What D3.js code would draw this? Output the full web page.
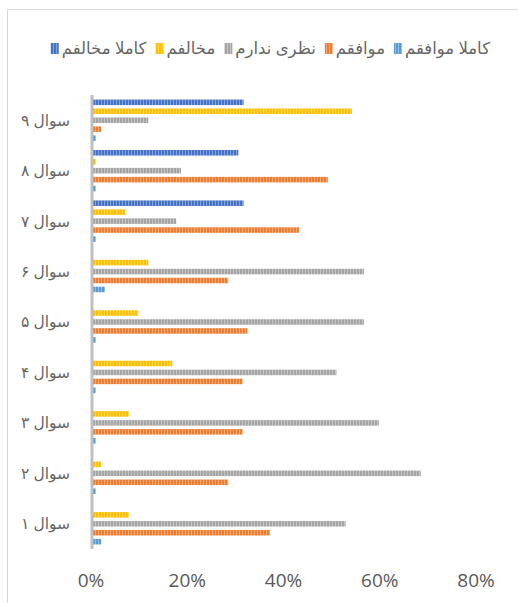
<!DOCTYPE html>
<html>
<head>
<meta charset="utf-8">
<script src="https://cdn.jsdelivr.net/npm/d3@7"></script>
<style>
  body { margin: 0; background: #fff; }
  svg { display: block; }
  text { font-family: "Open Sans", "DejaVu Sans", sans-serif; fill: #595959; }
</style>
</head>
<body>
<div id="chart"></div>
<script>
// questions, bottom to top
var categories = ['سوال ۱', 'سوال ۲', 'سوال ۳', 'سوال ۴', 'سوال ۵', 'سوال ۶', 'سوال ۷', 'سوال ۸', 'سوال ۹'];
var seriesNames = ['کاملا موافقم', 'موافقم', 'نظری ندارم', 'مخالفم', 'کاملا مخالفم'];
var seriesColors = ['#5B9BD5', '#ED7D31', '#A5A5A5', '#FFC000', '#4472C4'];
// percent values per series, same order as categories
var stronglyAgree = [1.9, 0.8, 0.8, 0.8, 0.8, 2.7, 0.8, 0.8, 0.8];
var agree = [37, 28.3, 31.3, 31.3, 32.3, 28.3, 43, 49, 1.9];
var noOpinion = [52.7, 68.3, 59.6, 50.8, 56.5, 56.5, 17.5, 18.5, 11.7];
var disagree = [7.7, 1.9, 7.7, 16.7, 9.6, 11.7, 6.9, 0.8, 54];
var stronglyDisagree = [0, 0, 0, 0, 0, 0, 31.5, 30.4, 31.5];
var tickValues = [0, 20, 40, 60, 80];

var seriesValues = [stronglyAgree, agree, noOpinion, disagree, stronglyDisagree];

var width = 518, height = 603;
var margin = {top: 95, right: 41, bottom: 54, left: 92};

var svg = d3.select('#chart').append('svg')
    .attr('width', width)
    .attr('height', height);

// striped fills like the excel pattern
var defs = svg.append('defs');
seriesColors.forEach(function(c, i) {
    var p = defs.append('pattern')
        .attr('id', 'stripe' + i)
        .attr('patternUnits', 'userSpaceOnUse')
        .attr('width', 3)
        .attr('height', 3);
    p.append('rect').attr('width', 3).attr('height', 3).attr('fill', c);
    p.append('rect').attr('x', 2).attr('width', 1).attr('height', 3)
        .attr('fill', d3.interpolateRgb(c, '#fff')(0.35));
});

// chart border
svg.append('rect')
    .attr('x', 7.5).attr('y', 9.5)
    .attr('width', 530).attr('height', 620)
    .attr('fill', 'none')
    .attr('stroke', '#d9d9d9');

var x = d3.scaleLinear()
    .domain([0, 80])
    .range([margin.left, width - margin.right]);

var y = d3.scaleBand()
    .domain(categories.slice().reverse())
    .range([margin.top, height - margin.bottom])
    .paddingInner(0.18)
    .paddingOuter(0.09);

var inner = d3.scaleBand()
    .domain(d3.range(seriesNames.length).reverse())
    .range([0, y.bandwidth()])
    .paddingInner(0.38);

var groups = svg.append('g').selectAll('g')
    .data(categories)
    .enter().append('g')
    .attr('transform', function(d) { return 'translate(0,' + y(d) + ')'; });

groups.selectAll('rect')
    .data(function(d, ci) {
        return seriesValues.map(function(vals, si) { return {s: si, v: vals[ci]}; });
    })
    .enter().append('rect')
    .attr('x', x(0))
    .attr('y', function(d) { return inner(d.s); })
    .attr('height', inner.bandwidth())
    .attr('width', function(d) { return x(d.v) - x(0); })
    .attr('fill', function(d) { return 'url(#stripe' + d.s + ')'; });

// vertical category axis line
svg.append('line')
    .attr('x1', x(0)).attr('x2', x(0))
    .attr('y1', margin.top).attr('y2', height - margin.bottom)
    .attr('stroke', '#bfbfbf')
    .attr('stroke-width', 3);

// category labels
svg.append('g').selectAll('text')
    .data(categories)
    .enter().append('text')
    .attr('x', 70)
    .attr('y', function(d) { return y(d) + y.bandwidth() / 2; })
    .attr('dy', '0.35em')
    .attr('text-anchor', 'end')
    .style('font-size', '15.5px')
    .style('fill', '#666')
    .text(function(d) { return d; });

// value axis labels
svg.append('g').selectAll('text')
    .data(tickValues)
    .enter().append('text')
    .attr('x', function(d) { return x(d) - 1; })
    .attr('y', 580)
    .attr('dy', '0.35em')
    .attr('text-anchor', 'middle')
    .style('font-size', '19px')
    .text(function(d) { return d + '%'; });

// legend, laid out right to left
var legend = svg.append('g');
var cursor = 490;
seriesNames.forEach(function(name, i) {
    var t = legend.append('text')
        .attr('x', cursor)
        .attr('y', 48)
        .attr('dy', '0.35em')
        .attr('text-anchor', 'end')
        .style('font-size', '16.5px')
        .style('fill', '#666')
        .text(name);
    var w = t.node().getComputedTextLength();
    legend.append('rect')
        .attr('x', cursor - w - 11)
        .attr('y', 43)
        .attr('width', 8)
        .attr('height', 11)
        .attr('fill', 'url(#stripe' + i + ')');
    cursor = cursor - w - 11 - 9;
});
</script>
</body>
</html>
